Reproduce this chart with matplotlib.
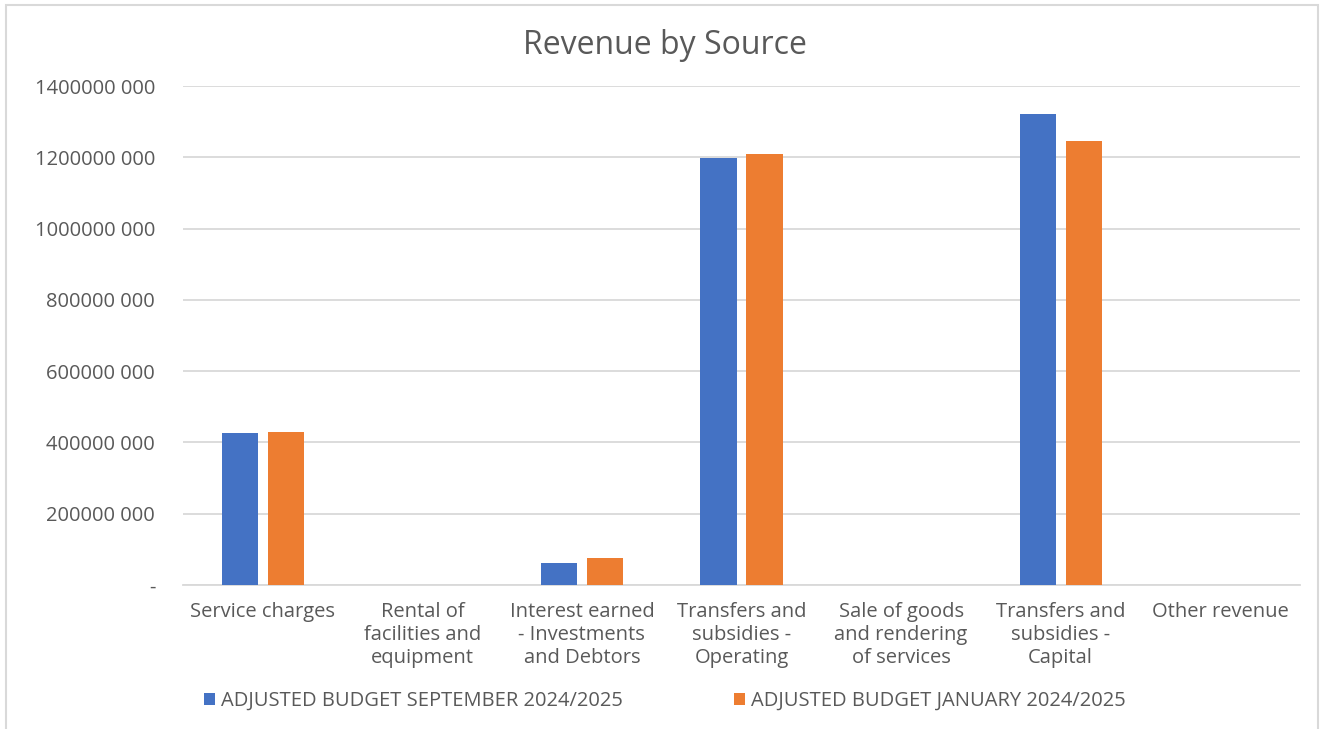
import numpy as np
import matplotlib
matplotlib.use('Agg')
import matplotlib.pyplot as plt
from matplotlib.patches import Rectangle

plt.rcParams['font.family'] = ['Open Sans', 'DejaVu Sans']

categories = ['Service charges',
              'Rental of\nfacilities and\nequipment',
              'Interest earned\n- Investments\nand Debtors',
              'Transfers and\nsubsidies -\nOperating',
              'Sale of goods\nand rendering\nof services',
              'Transfers and\nsubsidies -\nCapital',
              'Other revenue']

sep_budget = [427e6, 0, 62e6, 1199e6, 0, 1322e6, 0]   # ADJUSTED BUDGET SEPTEMBER
jan_budget = [428e6, 0, 76e6, 1208e6, 0, 1247e6, 0]   # ADJUSTED BUDGET JANUARY

series_names = ['ADJUSTED BUDGET SEPTEMBER 2024/2025',
                'ADJUSTED BUDGET JANUARY 2024/2025']

yticks = [0, 200e6, 400e6, 600e6, 800e6, 1000e6, 1200e6, 1400e6]
ytick_labels = ['-', '200000 000', '400000 000', '600000 000', '800000 000',
                '1000000 000', '1200000 000', '1400000 000']

blue = '#4472C4'
orange = '#ED7D31'
grid_c = '#D9D9D9'
text_c = '#595959'

fig = plt.figure(figsize=(13.3, 7.29), dpi=100)
ax = fig.add_axes([183/1330, 1-585/729, (1300-183)/1330, (585-86)/729])

x = np.arange(len(categories))
w = 0.226
off = 0.144
ax.bar(x - off, sep_budget, w, color=blue, label=series_names[0], zorder=3)
ax.bar(x + off, jan_budget, w, color=orange, label=series_names[1], zorder=3)

ax.set_xlim(-0.5, len(categories) - 0.5)
ax.set_ylim(0, 1400e6)
ax.set_yticks(yticks)
ax.set_yticklabels(ytick_labels)
ax.set_xticks(x)
ax.set_xticklabels(categories, linespacing=1.22)

ax.tick_params(axis='y', length=0, pad=20, labelsize=14.5, labelcolor=text_c)
ax.tick_params(axis='x', length=0, pad=12, labelsize=14.5, labelcolor=text_c)
for lab in ax.get_xticklabels():
    lab.set_verticalalignment('top')

ax.grid(axis='y', color=grid_c, linewidth=1.3, zorder=0)
for s in ['top', 'right', 'left']:
    ax.spines[s].set_visible(False)
ax.spines['bottom'].set_color(grid_c)
ax.spines['bottom'].set_linewidth(1.3)

fig.text(0.5, 1-45/729, 'Revenue by Source', ha='center', va='center',
         fontsize=23, color=text_c)

fig.legend(loc='center', bbox_to_anchor=(0.5, 1-701/729), ncol=2,
           frameon=False, fontsize=14.5, labelcolor=text_c,
           handlelength=0.55, handleheight=0.55, handletextpad=0.3,
           columnspacing=5.5)

# chart border
fig.patches.append(Rectangle((6/1330, -0.01), (1318-6)/1330, 1.01-5/729,
                             transform=fig.transFigure, fill=False,
                             edgecolor=grid_c, linewidth=1.5))

plt.savefig('out.png', dpi=100)
